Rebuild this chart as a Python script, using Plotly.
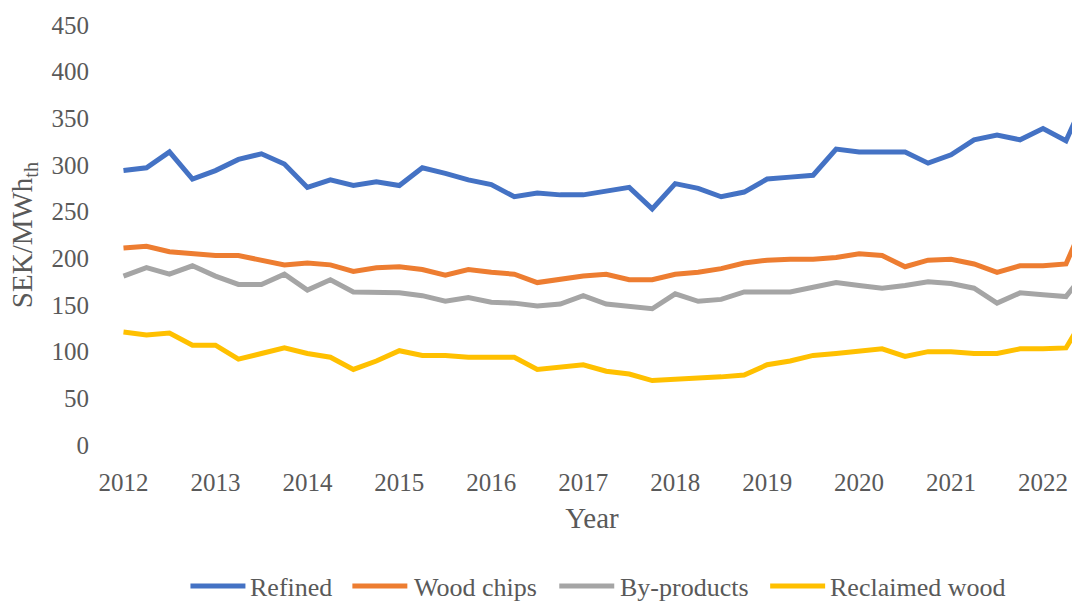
import plotly.graph_objects as go

# Quarterly fuel prices, 2012 Q1 .. 2022 Q3 (SEK per MWh thermal)
quarters = list(range(43))
year_ticks = [0, 4, 8, 12, 16, 20, 24, 28, 32, 36, 40]
year_labels = ["2012", "2013", "2014", "2015", "2016", "2017",
               "2018", "2019", "2020", "2021", "2022"]

refined = [294, 297, 314, 285, 294, 306, 312, 301, 276, 284, 278, 282,
           278, 297, 291, 284, 279, 266, 270, 268, 268, 272, 276, 253,
           280, 275, 266, 271, 285, 287, 289, 317, 314, 314, 314, 302,
           311, 327, 332, 327, 339, 326, 380]
wood_chips = [211, 213, 207, 205, 203, 203, 198, 193, 195, 193, 186, 190,
              191, 188, 182, 188, 185, 183, 174, 178, 181, 183, 177, 177,
              183, 185, 189, 195, 198, 199, 199, 201, 205, 203, 191, 198,
              199, 194, 185, 192, 192, 194, 250]
by_products = [181, 190, 183, 192, 181, 172, 172, 183, 166, 177, 164, 164,
               163, 160, 154, 158, 153, 152, 149, 151, 160, 151, 149, 146,
               162, 154, 156, 164, 164, 164, 169, 174, 171, 168, 171, 175,
               173, 168, 152, 163, 161, 159, 190]
reclaimed = [121, 118, 120, 107, 107, 92, 98, 104, 98, 94, 81, 90,
             101, 96, 96, 94, 94, 94, 81, 83, 86, 79, 76, 69,
             70, 71, 73, 75, 86, 90, 96, 98, 100, 103, 95, 100,
             100, 98, 98, 103, 103, 104, 145]

series = [
    ("Refined", refined, "#4472C4"),
    ("Wood chips", wood_chips, "#ED7D31"),
    ("By-products", by_products, "#A5A5A5"),
    ("Reclaimed wood", reclaimed, "#FFC000"),
]

W, H = 1072, 601
L, R, T, B = 111.5, 0, 25, 156
PW = W - L - R
PH = H - T - B
FONT = "Liberation Serif"
TXT = "#595959"


def px_x(px):
    return (px - L) / PW


def px_y(py):
    return (H - B - py) / PH


fig = go.Figure()
for name, vals, color in series:
    fig.add_trace(go.Scatter(
        x=quarters, y=vals, name=name, mode="lines",
        line=dict(color=color, width=5),
        showlegend=False,
    ))

# Legend row below the axis title
legend_items = [(190, 248), (352, 412), (559, 618), (770, 828)]
legend_y = 586
for (x0, tx), (name, _, color) in zip(legend_items, series):
    fig.add_shape(type="line", xref="paper", yref="paper",
                  x0=px_x(x0), x1=px_x(x0 + 55),
                  y0=px_y(legend_y), y1=px_y(legend_y),
                  line=dict(color=color, width=5))
    fig.add_annotation(xref="paper", yref="paper", x=px_x(tx),
                       y=px_y(legend_y + 1), text=name, showarrow=False,
                       xanchor="left", yanchor="middle",
                       font=dict(family=FONT, size=26, color=TXT))

fig.update_layout(
    width=W, height=H,
    margin=dict(l=L, r=R, t=T, b=B, autoexpand=False),
    plot_bgcolor="white", paper_bgcolor="white",
    font=dict(family=FONT, color=TXT),
)
fig.update_xaxes(
    range=[-0.5, 41 + 6 / 23],
    tickmode="array", tickvals=year_ticks, ticktext=year_labels,
    tickfont=dict(family=FONT, size=25, color=TXT),
    showgrid=False, zeroline=False, showline=False, ticks="",
    ticklabelstandoff=20,
    title=dict(text="Year", font=dict(family=FONT, size=29, color=TXT),
               standoff=12),
    automargin=False,
)
fig.update_yaxes(
    range=[0, 450], dtick=50, tick0=0,
    tickfont=dict(family=FONT, size=25, color=TXT),
    showgrid=False, zeroline=False, showline=False, ticks="",
    ticklabelstandoff=22,
    title=dict(text="SEK/MWh<sub>th</sub>",
               font=dict(family=FONT, size=29, color=TXT), standoff=10),
    automargin=False,
)

fig.write_html("out.html")
